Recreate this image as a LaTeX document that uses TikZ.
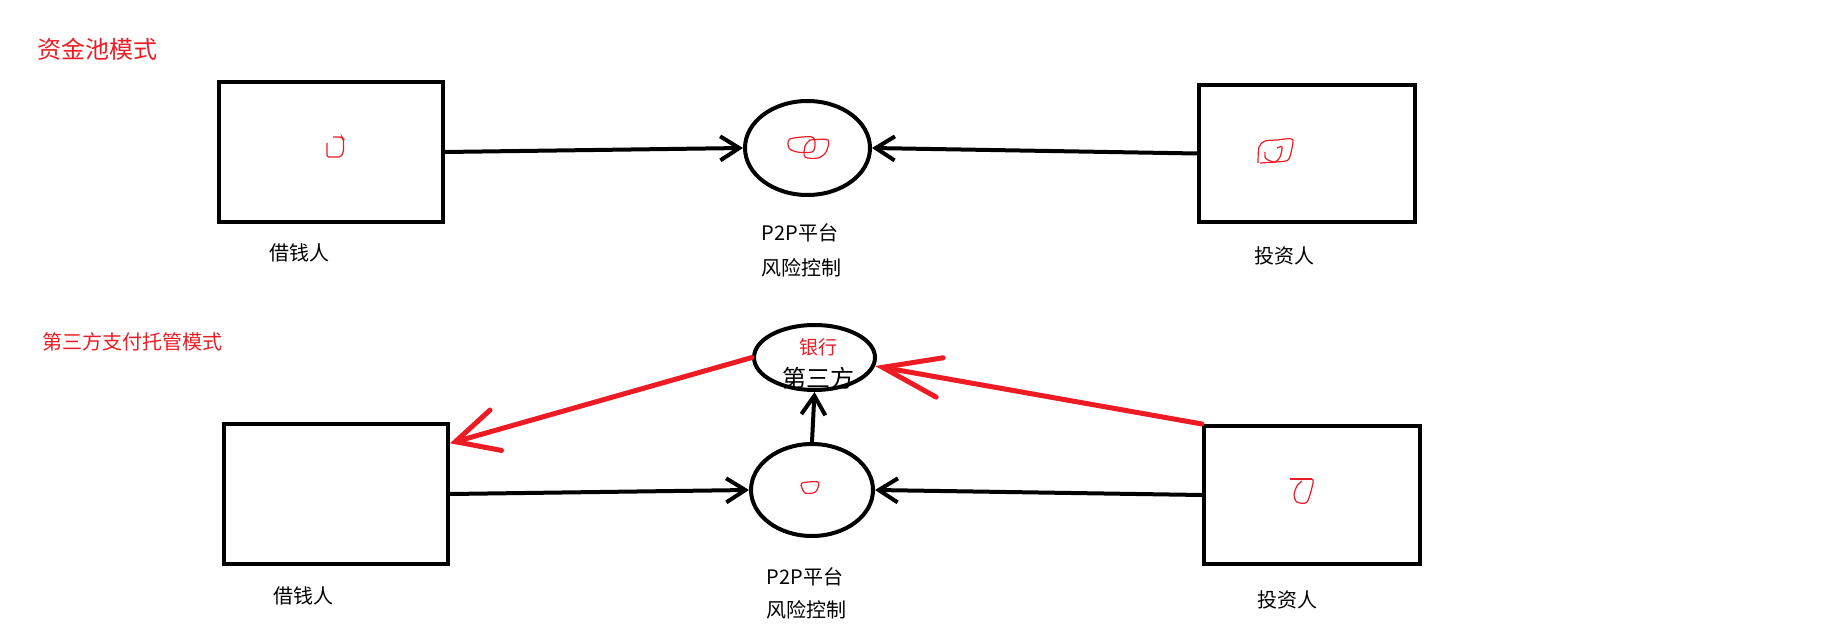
\documentclass[tikz,border=0pt]{standalone}
\usepackage{fontspec}
\setmainfont{Noto Sans CJK SC}
\usetikzlibrary{arrows.meta,shapes.geometric}
\definecolor{pen}{RGB}{237,28,36}
\begin{document}
\begin{tikzpicture}[x=0.5pt,y=-0.5pt,
  box/.style={draw,line width=2pt,rectangle,inner sep=0pt},
  oval/.style={draw,line width=2pt,ellipse,inner sep=0pt},
  lbl/.style={inner sep=0pt,font=\fontsize{10}{12}\selectfont},
  title/.style={inner sep=0pt,text=pen},
  blk/.style={line width=2pt,-{Straight Barb[length=9.5pt,width=12pt]}},
  redA/.style={pen,line width=2.5pt,line cap=round,-{Straight Barb[length=21pt,width=21pt,line cap=round]}},
  redB/.style={pen,line width=2.5pt,line cap=round,-{Straight Barb[length=29pt,width=20pt,line cap=round]}},
  scribble/.style={pen,line width=0.6pt}]
\useasboundingbox (0,0) rectangle (1826,636);

% titles
\node[title,font=\fontsize{12}{14}\selectfont] (t1) at (97,49) {资金池模式};
\node[title,font=\fontsize{10}{12}\selectfont] (t2) at (132,342) {第三方支付托管模式};

% top row
\node[box,minimum width=112pt,minimum height=70pt] (b1) at (331,152) {};
\node[box,minimum width=108pt,minimum height=68.5pt] (b2) at (1307,153.5) {};
\node[oval,minimum width=62.5pt,minimum height=47pt] (e1) at (807.5,148) {};
\node[lbl] (l1) at (299,253) {借钱人};
\node[lbl] (l2) at (1284,256) {投资人};
\node[lbl] (l3) at (800,233) {P2P平台};
\node[lbl] (l4) at (801,268) {风险控制};
\draw[blk] (b1.east) -- (e1.west);
\draw[blk] (b2.west) -- (e1.east);

% bottom row
\node[box,minimum width=112pt,minimum height=70pt] (b3) at (336,494) {};
\node[box,minimum width=108pt,minimum height=69pt] (b4) at (1312,495) {};
\node[oval,minimum width=61pt,minimum height=46pt] (e2) at (812,490) {};
\node[oval,minimum width=60.5pt,minimum height=32.5pt] (bank) at (814.5,357.5) {};
\node[inner sep=0pt,text=pen,font=\fontsize{9.5}{11}\selectfont] (bk) at (818,347) {银行};
\node[inner sep=0pt,font=\fontsize{12}{14}\selectfont] (tp) at (818,378) {第三方};
\node[lbl] (l5) at (303,596) {借钱人};
\node[lbl] (l6) at (1287,600) {投资人};
\node[lbl] (l7) at (805,577) {P2P平台};
\node[lbl] (l8) at (806,610) {风险控制};
\draw[blk] (b3.east) -- (e2.west);
\draw[blk] (b4.west) -- (e2.east);
\draw[blk] (e2.north) -- (bank.south);
\draw[redA] (bank.west) -- (b3.24);
\draw[redB] (b4.north west) -- (bank.-8);

% red scribbles
\draw[scribble,rounded corners=1pt] (333,137) -- (342,137) -- (343.5,139) -- (343.5,152) -- (341,157) -- (327,157) -- (327,143);
\draw[scribble] plot[smooth cycle] coordinates {(790,139) (812,137) (815,145) (812,152) (797,152) (789,148)};
\draw[scribble] plot[smooth] coordinates {(810,140) (828,140) (826,152) (818,158) (805,157) (805,146) (810,140)};
\draw[scribble] plot[smooth] coordinates {(1258,163) (1259,147) (1265,141) (1277,140) (1292,139) (1292,148) (1288,160) (1275,162) (1260,163)};
\draw[scribble] plot[smooth] coordinates {(1265,152) (1265,157) (1268,160) (1275,162) (1280,157) (1282,147) (1277,148)};
\draw[scribble] plot[smooth cycle] coordinates {(802,483) (818,482) (817,490) (813,493) (805,493) (802,488)};
\draw[scribble] (1290,479) -- (1312,479);
\draw[scribble] plot[smooth] coordinates {(1312,479) (1313,483) (1307,502) (1297,502) (1294,495) (1297,486) (1302,481)};
\end{tikzpicture}
\end{document}
